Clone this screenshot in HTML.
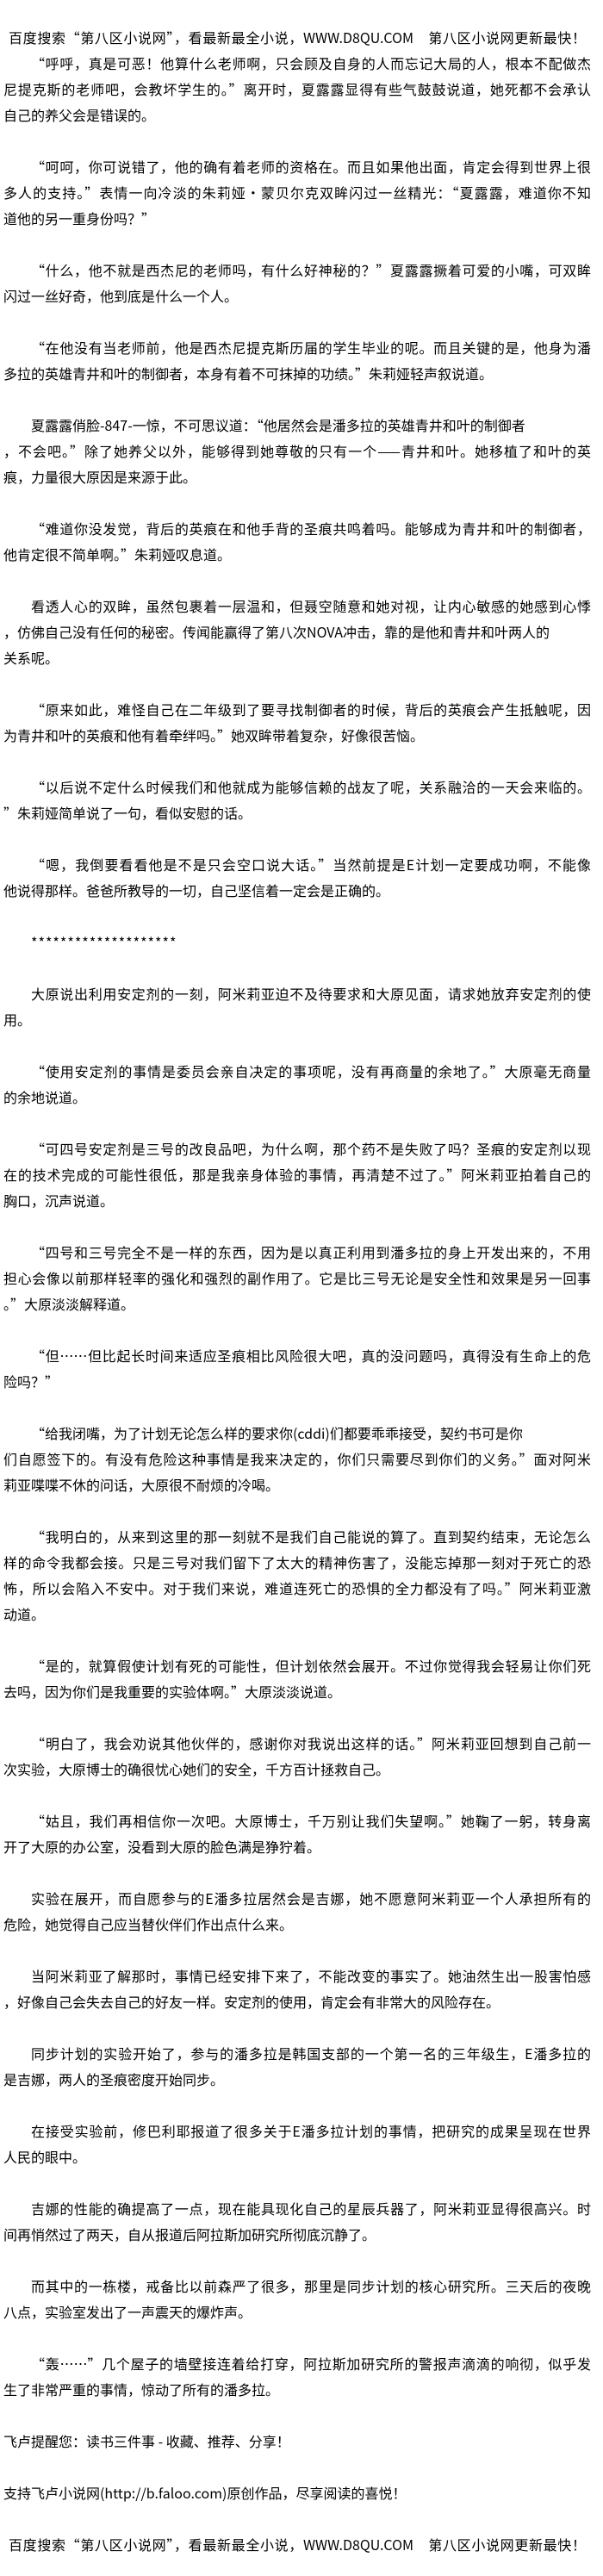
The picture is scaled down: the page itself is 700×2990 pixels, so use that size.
<!DOCTYPE html>
<html><head><meta charset="utf-8"><style>
html,body{margin:0;padding:0;background:#fff;}
body{width:700px;height:2990px;position:relative;overflow:hidden;font-family:"Noto Sans CJK SC","WenQuanYi Zen Hei","Liberation Sans",sans-serif;color:#000;}
.l{position:absolute;left:4px;width:682px;height:30px;line-height:30px;font-size:16px;white-space:normal;overflow:visible;}
.i{left:36px;width:650px;}
.h{left:10px;width:670px;}
.j{text-align:justify;text-align-last:justify;text-justify:inter-character;}
</style></head><body>
<div class="l h j" style="top:28px">百度搜索“第八区小说网”，看最新最全小说，WWW.D8QU.COM　第八区小说网更新最快！</div>
<div class="l i j" style="top:58px">“呼呼，真是可恶！他算什么老师啊，只会顾及自身的人而忘记大局的人，根本不配做杰</div>
<div class="l j" style="top:88px">尼提克斯的老师吧，会教坏学生的。”离开时，夏露露显得有些气鼓鼓说道，她死都不会承认</div>
<div class="l" style="top:118px">自己的养父会是错误的。</div>
<div class="l i j" style="top:178px">“呵呵，你可说错了，他的确有着老师的资格在。而且如果他出面，肯定会得到世界上很</div>
<div class="l j" style="top:208px">多人的支持。”表情一向冷淡的朱莉娅·蒙贝尔克双眸闪过一丝精光：“夏露露，难道你不知</div>
<div class="l" style="top:238px">道他的另一重身份吗？”</div>
<div class="l i j" style="top:298px">“什么，他不就是西杰尼的老师吗，有什么好神秘的？”夏露露撅着可爱的小嘴，可双眸</div>
<div class="l" style="top:328px">闪过一丝好奇，他到底是什么一个人。</div>
<div class="l i j" style="top:388px">“在他没有当老师前，他是西杰尼提克斯历届的学生毕业的呢。而且关键的是，他身为潘</div>
<div class="l" style="top:418px">多拉的英雄青井和叶的制御者，本身有着不可抹掉的功绩。”朱莉娅轻声叙说道。</div>
<div class="l i" style="top:478px">夏露露俏脸-847-一惊，不可思议道：“他居然会是潘多拉的英雄青井和叶的制御者</div>
<div class="l j" style="top:508px">，不会吧。”除了她养父以外，能够得到她尊敬的只有一个——青井和叶。她移植了和叶的英</div>
<div class="l" style="top:538px">痕，力量很大原因是来源于此。</div>
<div class="l i j" style="top:598px">“难道你没发觉，背后的英痕在和他手背的圣痕共鸣着吗。能够成为青井和叶的制御者，</div>
<div class="l" style="top:628px">他肯定很不简单啊。”朱莉娅叹息道。</div>
<div class="l i j" style="top:688px">看透人心的双眸，虽然包裹着一层温和，但聂空随意和她对视，让内心敏感的她感到心悸</div>
<div class="l" style="top:718px">，仿佛自己没有任何的秘密。传闻能赢得了第八次NOVA冲击，靠的是他和青井和叶两人的</div>
<div class="l" style="top:748px">关系呢。</div>
<div class="l i j" style="top:808px">“原来如此，难怪自己在二年级到了要寻找制御者的时候，背后的英痕会产生抵触呢，因</div>
<div class="l" style="top:838px">为青井和叶的英痕和他有着牵绊吗。”她双眸带着复杂，好像很苦恼。</div>
<div class="l i j" style="top:898px">“以后说不定什么时候我们和他就成为能够信赖的战友了呢，关系融洽的一天会来临的。</div>
<div class="l" style="top:928px">”朱莉娅简单说了一句，看似安慰的话。</div>
<div class="l i j" style="top:988px">“嗯，我倒要看看他是不是只会空口说大话。”当然前提是E计划一定要成功啊，不能像</div>
<div class="l" style="top:1018px">他说得那样。爸爸所教导的一切，自己坚信着一定会是正确的。</div>
<div class="l i" style="top:1078px;letter-spacing:1px">********************</div>
<div class="l i j" style="top:1138px">大原说出利用安定剂的一刻，阿米莉亚迫不及待要求和大原见面，请求她放弃安定剂的使</div>
<div class="l" style="top:1168px">用。</div>
<div class="l i j" style="top:1228px">“使用安定剂的事情是委员会亲自决定的事项呢，没有再商量的余地了。”大原毫无商量</div>
<div class="l" style="top:1258px">的余地说道。</div>
<div class="l i j" style="top:1318px">“可四号安定剂是三号的改良品吧，为什么啊，那个药不是失败了吗？圣痕的安定剂以现</div>
<div class="l j" style="top:1348px">在的技术完成的可能性很低，那是我亲身体验的事情，再清楚不过了。”阿米莉亚拍着自己的</div>
<div class="l" style="top:1378px">胸口，沉声说道。</div>
<div class="l i j" style="top:1438px">“四号和三号完全不是一样的东西，因为是以真正利用到潘多拉的身上开发出来的，不用</div>
<div class="l j" style="top:1468px">担心会像以前那样轻率的强化和强烈的副作用了。它是比三号无论是安全性和效果是另一回事</div>
<div class="l" style="top:1498px">。”大原淡淡解释道。</div>
<div class="l i j" style="top:1558px">“但……但比起长时间来适应圣痕相比风险很大吧，真的没问题吗，真得没有生命上的危</div>
<div class="l" style="top:1588px">险吗？”</div>
<div class="l i" style="top:1648px">“给我闭嘴，为了计划无论怎么样的要求你(cddi)们都要乖乖接受，契约书可是你</div>
<div class="l j" style="top:1678px">们自愿签下的。有没有危险这种事情是我来决定的，你们只需要尽到你们的义务。”面对阿米</div>
<div class="l" style="top:1708px">莉亚喋喋不休的问话，大原很不耐烦的冷喝。</div>
<div class="l i j" style="top:1768px">“我明白的，从来到这里的那一刻就不是我们自己能说的算了。直到契约结束，无论怎么</div>
<div class="l j" style="top:1798px">样的命令我都会接。只是三号对我们留下了太大的精神伤害了，没能忘掉那一刻对于死亡的恐</div>
<div class="l j" style="top:1828px">怖，所以会陷入不安中。对于我们来说，难道连死亡的恐惧的全力都没有了吗。”阿米莉亚激</div>
<div class="l" style="top:1858px">动道。</div>
<div class="l i j" style="top:1918px">“是的，就算假使计划有死的可能性，但计划依然会展开。不过你觉得我会轻易让你们死</div>
<div class="l" style="top:1948px">去吗，因为你们是我重要的实验体啊。”大原淡淡说道。</div>
<div class="l i j" style="top:2008px">“明白了，我会劝说其他伙伴的，感谢你对我说出这样的话。”阿米莉亚回想到自己前一</div>
<div class="l" style="top:2038px">次实验，大原博士的确很忧心她们的安全，千方百计拯救自己。</div>
<div class="l i j" style="top:2098px">“姑且，我们再相信你一次吧。大原博士，千万别让我们失望啊。”她鞠了一躬，转身离</div>
<div class="l" style="top:2128px">开了大原的办公室，没看到大原的脸色满是狰狞着。</div>
<div class="l i j" style="top:2188px">实验在展开，而自愿参与的E潘多拉居然会是吉娜，她不愿意阿米莉亚一个人承担所有的</div>
<div class="l" style="top:2218px">危险，她觉得自己应当替伙伴们作出点什么来。</div>
<div class="l i j" style="top:2278px">当阿米莉亚了解那时，事情已经安排下来了，不能改变的事实了。她油然生出一股害怕感</div>
<div class="l" style="top:2308px">，好像自己会失去自己的好友一样。安定剂的使用，肯定会有非常大的风险存在。</div>
<div class="l i j" style="top:2368px">同步计划的实验开始了，参与的潘多拉是韩国支部的一个第一名的三年级生，E潘多拉的</div>
<div class="l" style="top:2398px">是吉娜，两人的圣痕密度开始同步。</div>
<div class="l i j" style="top:2458px">在接受实验前，修巴利耶报道了很多关于E潘多拉计划的事情，把研究的成果呈现在世界</div>
<div class="l" style="top:2488px">人民的眼中。</div>
<div class="l i j" style="top:2548px">吉娜的性能的确提高了一点，现在能具现化自己的星辰兵器了，阿米莉亚显得很高兴。时</div>
<div class="l" style="top:2578px">间再悄然过了两天，自从报道后阿拉斯加研究所彻底沉静了。</div>
<div class="l i j" style="top:2638px">而其中的一栋楼，戒备比以前森严了很多，那里是同步计划的核心研究所。三天后的夜晚</div>
<div class="l" style="top:2668px">八点，实验室发出了一声震天的爆炸声。</div>
<div class="l i j" style="top:2728px">“轰……”几个屋子的墙壁接连着给打穿，阿拉斯加研究所的警报声滴滴的响彻，似乎发</div>
<div class="l" style="top:2758px">生了非常严重的事情，惊动了所有的潘多拉。</div>
<div class="l" style="top:2818px">飞卢提醒您：读书三件事 - 收藏、推荐、分享！</div>
<div class="l" style="top:2878px">支持飞卢小说网(http://b.faloo.com)原创作品，尽享阅读的喜悦！</div>
<div class="l h j" style="top:2938px">百度搜索“第八区小说网”，看最新最全小说，WWW.D8QU.COM　第八区小说网更新最快！</div>
</body></html>
